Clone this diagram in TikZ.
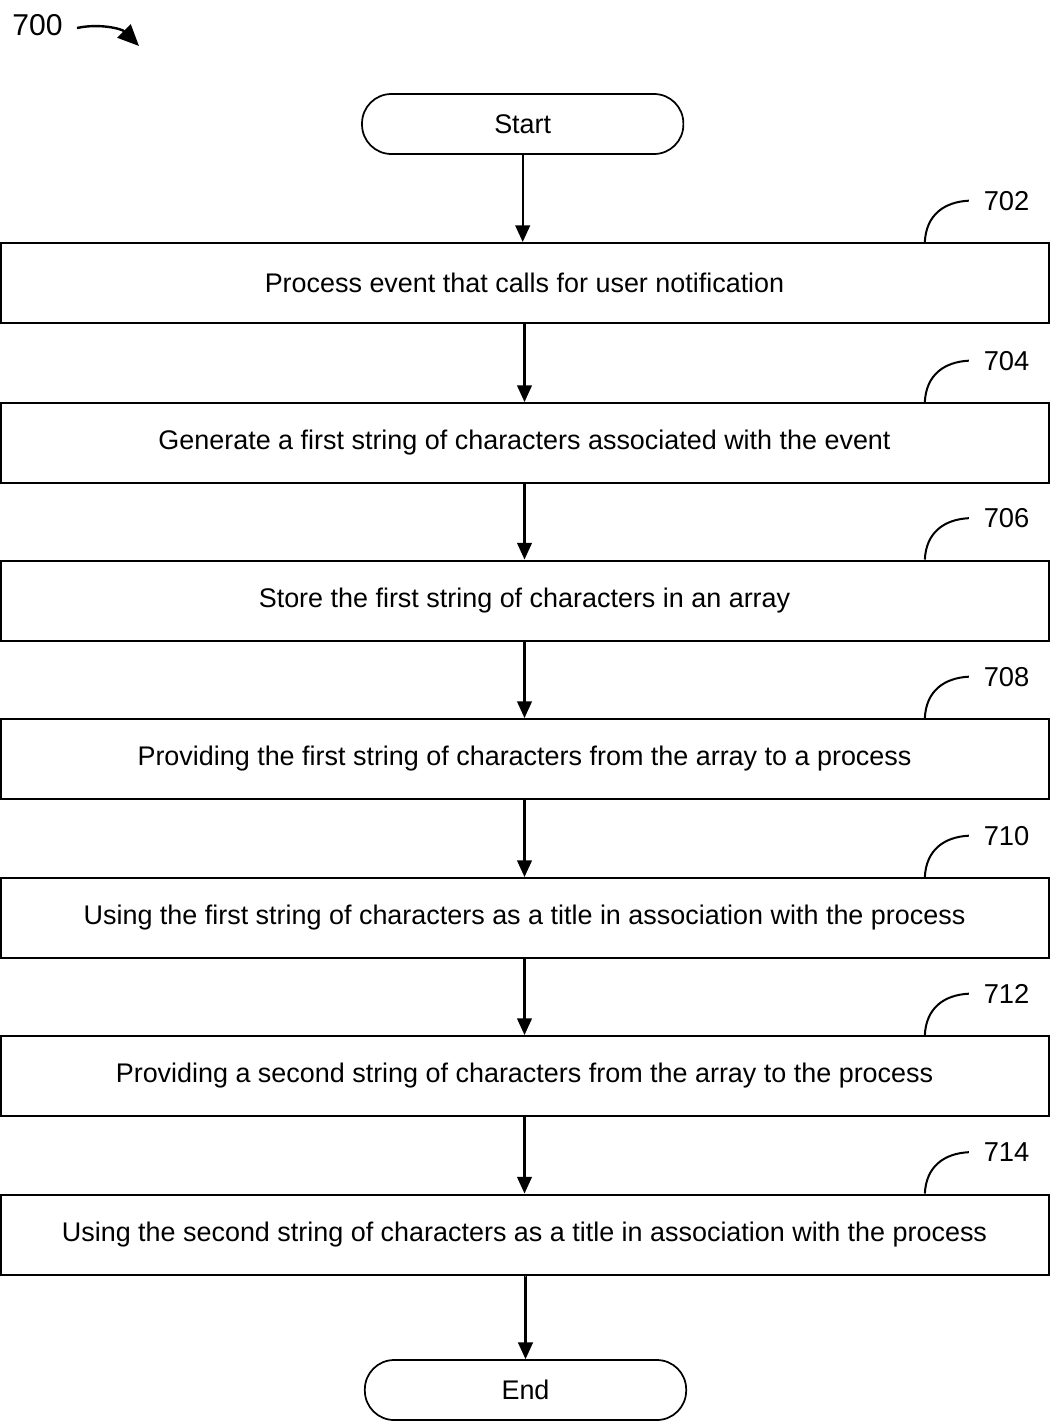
\documentclass[tikz,border=0pt]{standalone}
\usepackage{fontspec}
\setmainfont{Liberation Sans}
\usetikzlibrary{arrows.meta}
\begin{document}
\begin{tikzpicture}[x=0.75pt,y=-0.75pt,
  stepbox/.style={draw,line width=1.5pt,minimum width=787.5pt-1.5pt,minimum height=60pt,inner sep=0pt,font=\fontsize{20.2}{24}\selectfont},
  term/.style={draw,line width=1.3pt,rounded corners=22pt,minimum width=241pt,minimum height=45pt,inner sep=0pt,font=\fontsize{20.2}{24}\selectfont},
  flow/.style={line width=1.6pt,-{Triangle[length=12.5pt,width=11pt]}},
  lead/.style={line width=1.5pt},
  reflabel/.style={font=\fontsize{20.5}{24}\selectfont,anchor=west,inner sep=0pt}]
\useasboundingbox (0,0) rectangle (1050,1421);
\node[reflabel,font=\fontsize{22.6}{26}\selectfont] (n700) at (12,25) {700};
\coordinate (a700s) at (77,28);
\coordinate (a700e) at (139,46);
\draw[line width=1.8pt,-{Triangle[length=16pt,width=14pt]}] (a700s) .. controls (100,23) and (122,29) .. (a700e);

\node[term] (start) at (522.7,124) {Start};
\node[term] (end) at (525.5,1390) {End};

\node[stepbox] (s702) at (524.5,283) {Process event that calls for user notification};
\node[stepbox] (s704) at (524.5,443) {Generate a first string of characters associated with the event};
\node[stepbox] (s706) at (524.5,600.5) {Store the first string of characters in an array};
\node[stepbox] (s708) at (524.5,759) {Providing the first string of characters from the array to a process};
\node[stepbox] (s710) at (524.5,918) {Using the first string of characters as a title in association with the process};
\node[stepbox] (s712) at (524.5,1076) {Providing a second string of characters from the array to the process};
\node[stepbox] (s714) at (524.5,1234.5) {Using the second string of characters as a title in association with the process};

\draw[flow] (start) -- (start|-s702.north);
\draw[flow] (s702) -- (s704);
\draw[flow] (s704) -- (s706);
\draw[flow] (s706) -- (s708);
\draw[flow] (s708) -- (s710);
\draw[flow] (s710) -- (s712);
\draw[flow] (s712) -- (s714);
\draw[flow] (s714) -- (s714.south-|end) -- (end);

\foreach \s/\lab in {s702/702,s704/704,s706/706,s708/708,s710/710,s712/712,s714/714}{
  \node[reflabel] (l\lab) at ([xshift=738pt,yshift=31pt]\s.north west) {\lab};
  \draw[lead] ([xshift=694pt]\s.north west) .. controls ([xshift=695pt,yshift=20pt]\s.north west) and ([xshift=708pt,yshift=30pt]\s.north west) .. ([xshift=727pt,yshift=31pt]\s.north west);
}
\end{tikzpicture}
\end{document}
